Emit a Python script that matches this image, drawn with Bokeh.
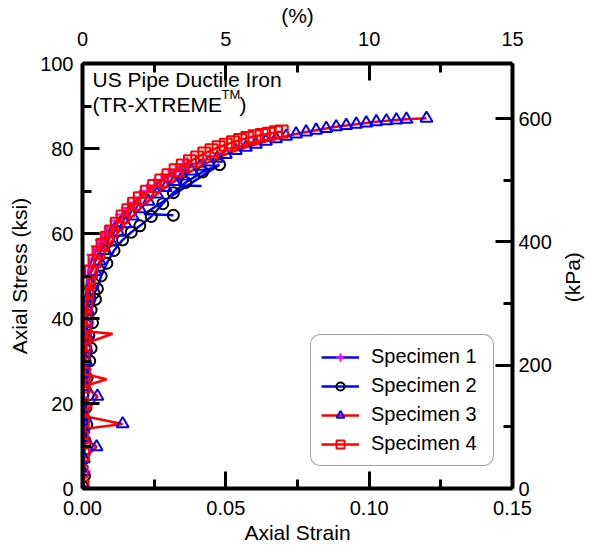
import math
from bokeh.plotting import figure
from bokeh.layouts import row
from bokeh.core.properties import value
from bokeh.models import (Range1d, LinearAxis, FixedTicker, Legend, LegendItem,
                          Label, PrintfTickFormatter)
from bokeh.embed import file_html
from bokeh.resources import INLINE

FONT = "Liberation Sans"

# ---------------- data ----------------
x_ticks = [0.0, 0.05, 0.10, 0.15]
x_minor = [0.025, 0.075, 0.125]
y_ticks = [0, 20, 40, 60, 80, 100]
y_minor = [10, 30, 50, 70, 90]
pct_ticks = [0, 5, 10, 15]
pct_minor = [2.5, 7.5, 12.5]
kpa_ticks = [0, 200, 400, 600]
kpa_minor = [100, 300, 500]

# Specimen 1 (blue line, magenta +)
s1_strain = [0.0000, 0.0002, 0.0003, 0.0002, 0.0004, 0.0005, 0.0004, 0.0006, 0.0008, 0.0007,
             0.0010, 0.0012, 0.0011, 0.0014, 0.0018, 0.0025, 0.0040, 0.0055, 0.0070, 0.0085,
             0.0100, 0.0120, 0.0140, 0.0160, 0.0180, 0.0200, 0.0225, 0.0250, 0.0275, 0.0300,
             0.0325, 0.0350, 0.0365, 0.0340, 0.0415]
s1_stress = [0.5, 4, 8, 12, 16, 20, 24, 28, 32, 35,
             38, 41, 44, 47, 50, 52.5, 55, 57, 58.5, 60,
             61.5, 63, 64.5, 66, 67.3, 68.5, 70, 71.3, 72.5, 73.6,
             74.7, 75.7, 76.2, 71.3, 71.2]
s1_nomark = [33, 34]

# Specimen 2 (blue line, black circles)
s2_strain = [0.0000, 0.0007, 0.0004, 0.0010, 0.0015, 0.0012, 0.0020, 0.0016, 0.0025, 0.0030,
             0.0022, 0.0035, 0.0030, 0.0045, 0.0040, 0.0052, 0.0065, 0.0085, 0.0110, 0.0140,
             0.0170, 0.0200, 0.0240, 0.0280, 0.0317, 0.0360, 0.0419, 0.0478, 0.0215, 0.0317]
s2_stress = [0.5, 3, 7, 11, 15, 19, 22, 26, 30, 33,
             36, 39, 42, 44.5, 46, 47, 50, 53, 56, 58.5,
             60.3, 61.8, 64, 67, 69.6, 72, 74.5, 76.2, 64.6, 64.3]
s2_nomark = [28]

# Specimen 3 (red line, blue triangles)
s3_strain = [0.0000, 0.0003, 0.0005, 0.0049, 0.0006, 0.0004, 0.0140, 0.0008, 0.0052, 0.0010,
             0.0008, 0.0012, 0.0014, 0.0016, 0.0015, 0.0018, 0.0022, 0.0030, 0.0045, 0.0060,
             0.0080, 0.0100, 0.0125, 0.0150, 0.0175, 0.0200, 0.0230, 0.0260, 0.0290, 0.0320,
             0.0350, 0.0380, 0.0410, 0.0440, 0.0470, 0.0500, 0.0535, 0.0570, 0.0605, 0.0640,
             0.0675, 0.0710, 0.0745, 0.0780, 0.0815, 0.0850, 0.0885, 0.0920, 0.0955, 0.0990,
             0.1025, 0.1060, 0.1095, 0.1130, 0.1200]
s3_stress = [0, 4, 7, 9.8, 12, 14, 15.2, 17, 21.7, 24,
             27, 30, 33, 36, 39, 42, 45, 48, 51, 53.5,
             56, 58, 60.3, 62.3, 64.1, 65.8, 67.6, 69.3, 70.8, 72.2,
             73.5, 74.7, 75.8, 76.8, 77.7, 78.6, 79.5, 80.3, 81.0, 81.7,
             82.3, 82.9, 83.4, 83.9, 84.3, 84.7, 85.1, 85.4, 85.7, 86.0,
             86.3, 86.5, 86.7, 86.9, 87.1]
s3_nomark = []

# Specimen 4 (red line, red squares)
s4_strain = [0.0000, -0.0003, 0.0002, -0.0002, 0.0001, -0.0001, 0.0004, 0.0084, 0.0005, 0.0003,
             0.0006, 0.0105, 0.0008, 0.0010, 0.0012, 0.0016, 0.0022, 0.0030, 0.0042, 0.0056,
             0.0070, 0.0085, 0.0100, 0.0120, 0.0140, 0.0160, 0.0180, 0.0200, 0.0225, 0.0250,
             0.0275, 0.0300, 0.0325, 0.0350, 0.0375, 0.0400, 0.0425, 0.0450, 0.0475, 0.0500,
             0.0525, 0.0550, 0.0575, 0.0600, 0.0625, 0.0650, 0.0675, 0.0695]
s4_stress = [0.5, 4, 8, 12, 16, 20, 24, 25.7, 27, 31,
             34, 36.4, 37, 40, 43.4, 46, 48.5, 51, 53.5, 55.5,
             57.3, 59, 60.5, 62.3, 64, 65.5, 67, 68.3, 69.8, 71.2,
             72.5, 73.7, 74.9, 76, 77, 77.9, 78.8, 79.6, 80.3, 80.9,
             81.5, 82, 82.5, 82.9, 83.2, 83.5, 83.8, 84.0]
s4_nomark = [7, 11]

labels = ["Specimen 1", "Specimen 2", "Specimen 3", "Specimen 4"]
right_title = "(kPa)"
KSI_TO_MPA = 6.895

# ---------------- main figure ----------------
p = figure(width=556, height=547, output_backend="svg", toolbar_location=None,
           x_range=Range1d(0, 0.15), y_range=Range1d(0, 100),
           x_axis_location=None, y_axis_location=None,
           min_border_left=82, min_border_right=44, min_border_top=60, min_border_bottom=59)
p.outline_line_color = None
p.xgrid.visible = False
p.ygrid.visible = False
p.background_fill_color = "white"
p.border_fill_color = "white"

p.extra_x_ranges = {"pct": Range1d(0, 15)}
p.extra_y_ranges = {"kpa": Range1d(0, 100 * KSI_TO_MPA)}


def style_axis(ax, ticks, minor, label, standoff, label_standoff):
    ax.ticker = FixedTicker(ticks=ticks, minor_ticks=minor)
    ax.axis_label = label
    ax.axis_label_text_font = FONT
    ax.axis_label_text_font_size = "21px"
    ax.axis_label_text_font_style = "normal"
    ax.axis_label_text_color = "black"
    ax.axis_label_standoff = label_standoff
    ax.major_label_text_font = FONT
    ax.major_label_text_font_size = "20px"
    ax.major_label_text_color = "black"
    ax.major_label_standoff = standoff
    ax.axis_line_width = 4
    ax.axis_line_color = "black"
    ax.major_tick_in = 17
    ax.major_tick_out = 0
    ax.minor_tick_in = 9
    ax.minor_tick_out = 0
    ax.major_tick_line_width = 3
    ax.minor_tick_line_width = 3
    ax.major_tick_line_color = "black"
    ax.minor_tick_line_color = "black"


xb = LinearAxis()
style_axis(xb, x_ticks, x_minor, "Axial Strain", 12, 3)
xb.formatter = PrintfTickFormatter(format="%.2f")
p.add_layout(xb, "below")

yl = LinearAxis()
style_axis(yl, y_ticks, y_minor, "Axial Stress (ksi)", 9, 6)
p.add_layout(yl, "left")

xt = LinearAxis(x_range_name="pct")
style_axis(xt, pct_ticks, pct_minor, "(%)", 18, 2)
p.add_layout(xt, "above")

yr = LinearAxis(y_range_name="kpa")
style_axis(yr, kpa_ticks, kpa_minor, "", 6, 0)
p.add_layout(yr, "right")

# ---------------- series ----------------
series = [
    (s1_strain, s1_stress, s1_nomark, "#0000FF", "cross", "#FF00FF", 15),
    (s2_strain, s2_stress, s2_nomark, "#0000FF", "circle", "black", 11),
    (s3_strain, s3_stress, s3_nomark, "#FF0000", "triangle", "#0000FF", 12),
    (s4_strain, s4_stress, s4_nomark, "#FF0000", "square", "#FF0000", 12),
]
items = []
for (xs, ys, nomark, lc, mk, mc, size), lab in zip(series, labels):
    lr = p.line(xs, ys, line_color=lc, line_width=2.5)
    mx = [x for i, x in enumerate(xs) if i not in nomark]
    my = [y for i, y in enumerate(ys) if i not in nomark]
    mr = p.scatter(mx, my, marker=mk, size=size, line_color=mc, fill_color=None,
                   line_width=2)
    items.append(LegendItem(label=lab, renderers=[lr, mr]))

legend = Legend(items=items, location=(228, 22))
legend.label_text_font = FONT
legend.label_text_font_size = "20px"
legend.label_text_color = "black"
legend.glyph_width = 38
legend.glyph_height = 20
legend.label_height = 20
legend.label_width = 112
legend.spacing = 6
legend.padding = 10
legend.margin = 0
legend.label_standoff = 12
legend.border_line_color = "#444444"
legend.border_line_width = 1.2
legend.background_fill_alpha = 1
if "border_radius" in Legend.properties():
    legend.border_radius = 10
p.add_layout(legend, "center")

# ---------------- annotations ----------------
ann1 = Label(x=10, y=409, x_units="screen", y_units="screen", text="US Pipe Ductile Iron",
             text_font=FONT, text_font_size="21px", text_color="black",
             text_baseline="alphabetic")
ann2 = Label(x=10, y=384, x_units="screen", y_units="screen", text="(TR-XTREME",
             text_font=FONT, text_font_size="21px", text_color="black",
             text_baseline="alphabetic")
ann3 = Label(x=139, y=394, x_units="screen", y_units="screen", text="TM",
             text_font=FONT, text_font_size="13px", text_color="black",
             text_baseline="alphabetic")
ann4 = Label(x=157, y=384, x_units="screen", y_units="screen", text=")",
             text_font=FONT, text_font_size="21px", text_color="black",
             text_baseline="alphabetic")
for a in (ann1, ann2, ann3, ann4):
    p.add_layout(a)

# ---------------- narrow strip carrying the right-hand title ----------------
side = figure(width=36, height=547, output_backend="svg", toolbar_location=None,
              x_range=Range1d(0, 1), y_range=Range1d(0, 1),
              x_axis_location=None, y_axis_location=None,
              min_border=0, min_border_left=0, min_border_right=0,
              min_border_top=0, min_border_bottom=0)
side.outline_line_color = None
side.xgrid.visible = False
side.ygrid.visible = False
side.background_fill_color = "white"
side.border_fill_color = "white"
side.text(x=[0.45], y=[0.497], text=[right_title], angle=math.pi / 2,
          text_align="center", text_baseline="middle",
          text_font=value(FONT), text_font_size="21px", text_color="black")

layout = row(p, side, spacing=0)
open("out.html", "w").write(file_html(layout, INLINE))
